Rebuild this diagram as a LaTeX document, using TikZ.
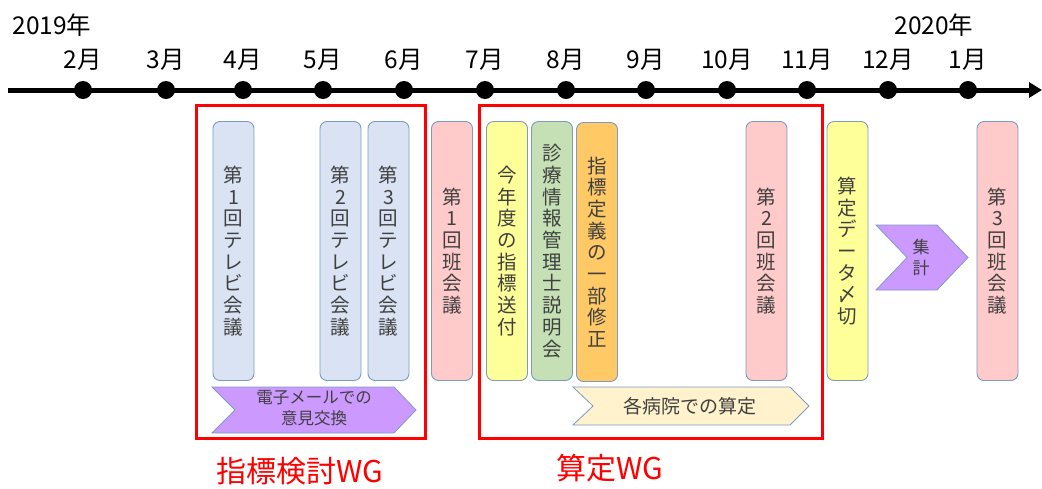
\documentclass[tikz,border=0pt]{standalone}
\usepackage{fontspec}
\setmainfont{Noto Sans CJK JP}
\usetikzlibrary{arrows.meta}
\definecolor{txt}{HTML}{404040}
\definecolor{edge}{HTML}{7C9CC4}
\definecolor{blueF}{HTML}{DAE3F3}
\definecolor{pinkF}{HTML}{FFCACA}
\definecolor{yelF}{HTML}{FFFF99}
\definecolor{grnF}{HTML}{C5E0B4}
\definecolor{orgF}{HTML}{FFC966}
\definecolor{purF}{HTML}{CC99FF}
\definecolor{creF}{HTML}{FFF2CC}
\tikzset{
  col/.style={draw=edge, line width=0.9pt, rounded corners=7pt, minimum width=41pt,
    minimum height=259pt, inner sep=0pt, align=center, text=txt,
    font=\fontsize{19.5}{21.7}\selectfont},
  month/.style={font=\fontsize{24.5}{27}\selectfont, text=black, inner sep=0pt},
  dot/.style={circle, fill=black, minimum size=18pt, inner sep=0pt},
  wg/.style={draw=red, line width=3pt},
  wglabel/.style={font=\fontsize{30}{33}\selectfont, text=red, inner sep=0pt},
  chev/.style={draw=edge, line width=0.8pt},
  chevtext/.style={text=txt, align=center, inner sep=0pt},
}
\begin{document}
\begin{tikzpicture}[x=1pt, y=-1pt]
\useasboundingbox (0,0) rectangle (1042,488);
% timeline
\coordinate (tl0) at (8,90);
\coordinate (tl1) at (1042,90);
\draw[line width=5pt, -{Triangle[length=13pt,width=15pt]}] (tl0) -- (tl1);
\foreach \n/\x/\lab in {m2/83/2月, m3/166/3月, m4/243/4月, m5/323/5月, m6/404/6月, m7/485/7月,
  m8/566/8月, m9/646/9月, m10/727/10月, m11/807/11月, m12/888/12月, m1/968/1月}{
  \node[dot] (\n) at (\x,90) {};
  \node[month] (\n lab) at (\x,60) {\lab};
}
\node[month] (y2019) at (52,25) {2019年};
\node[month] (y2020) at (934,25) {2020年};
% WG frames
\draw[wg] (196,105) rectangle (425,438);
\draw[wg] (479,105) rectangle (822,438);
\node[wglabel] (wg1) at (300,471) {指標検討WG};
\node[wglabel] (wg2) at (610,468) {算定WG};
% columns
\node[col, fill=blueF] (tv1) at (233.5,251) {第\\1\\回\\テ\\レ\\ビ\\会\\議};
\node[col, fill=blueF] (tv2) at (340.5,251) {第\\2\\回\\テ\\レ\\ビ\\会\\議};
\node[col, fill=blueF] (tv3) at (388.5,251) {第\\3\\回\\テ\\レ\\ビ\\会\\議};
\node[col, fill=pinkF] (han1) at (452,251) {第\\1\\回\\班\\会\\議};
\node[col, fill=yelF] (send) at (507,251) {今\\年\\度\\の\\指\\標\\送\\付};
\node[col, fill=grnF] (expl) at (552,251) {診\\療\\情\\報\\管\\理\\士\\説\\明\\会};
\node[col, fill=orgF] (rev) at (597,252) {指\\標\\定\\義\\の\\一\\部\\修\\正};
\node[col, fill=pinkF] (han2) at (766.5,251) {第\\2\\回\\班\\会\\議};
\node[col, fill=yelF] (dead) at (847.5,251) {算\\定\\デ\\ー\\タ\\〆\\切};
\node[col, fill=pinkF] (han3) at (997.5,251) {第\\3\\回\\班\\会\\議};
% chevrons
\draw[chev, fill=purF] (212,387) -- (394,387) -- (416,410) -- (394,433) -- (212,433) -- (235,410) -- cycle;
\node[chevtext, font=\fontsize{16.5}{20.5}\selectfont] (mail) at (314,408) {電子メールでの\\意見交換};
\draw[chev, fill=creF] (573,387) -- (790,387) -- (809,406) -- (790,425) -- (573,425) -- (593,406) -- cycle;
\node[chevtext, font=\fontsize{19}{22}\selectfont] (calc) at (690,406) {各病院での算定};
\draw[chev, fill=purF] (876,225) -- (937,225) -- (968,257.5) -- (937,290) -- (876,290) -- (907,257.5) -- cycle;
\node[chevtext, font=\fontsize{17}{21}\selectfont] (agg) at (921,258) {集\\計};
\end{tikzpicture}
\end{document}
